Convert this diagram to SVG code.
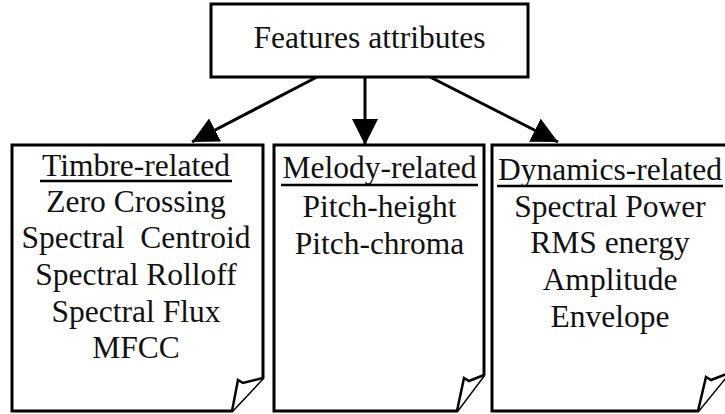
<svg xmlns="http://www.w3.org/2000/svg" width="725" height="414" viewBox="0 0 725 414">
  <style>
    .box { fill: #ffffff; stroke: #000000; stroke-width: 3; stroke-linejoin: miter; }
    .fold { fill: #ffffff; stroke: #000000; stroke-width: 2.5; stroke-linejoin: miter; }
    .lbl { font-family: "Liberation Serif", "Times New Roman", serif; font-size: 31.5px; fill: #111111; text-anchor: middle; white-space: pre; }
    .rule { stroke: #000000; stroke-width: 2.5; }
    .conn { stroke: #000000; stroke-width: 3; fill: none; }
  </style>
  <defs>
    <marker id="head" markerUnits="userSpaceOnUse" viewBox="0 0 26 26" refX="26" refY="13" markerWidth="26" markerHeight="26" orient="auto">
      <path d="M0,0 L26,13 L0,26 Z" fill="#000000"/>
    </marker>
  </defs>

  <rect width="725" height="414" fill="#ffffff"/>

  <!-- connectors from the root box to the three categories -->
  <g id="connectors">
    <line class="conn" x1="317" y1="77" x2="192" y2="142" marker-end="url(#head)"/>
    <line class="conn" x1="365" y1="77" x2="365" y2="145" marker-end="url(#head)"/>
    <line class="conn" x1="430" y1="77" x2="558" y2="142" marker-end="url(#head)"/>
  </g>

  <!-- root node -->
  <g id="features">
    <rect class="box" x="211" y="4" width="317" height="73"/>
    <text class="lbl" x="369.5" y="48">Features attributes</text>
  </g>

  <!-- timbre page -->
  <g id="timbre">
    <path class="box" d="M12,145 H263 V378 L232,411 H12 Z"/>
    <path class="fold" d="M232,411 L238,380 L243,383 L263,378"/>
    <text class="lbl" x="136" y="176">Timbre-related</text>
    <line class="rule" x1="40" y1="181" x2="232" y2="181"/>
    <text class="lbl" x="136" y="212">Zero Crossing</text>
    <text class="lbl" x="136" y="248">Spectral  Centroid</text>
    <text class="lbl" x="136" y="285">Spectral Rolloff</text>
    <text class="lbl" x="136" y="322">Spectral Flux</text>
    <text class="lbl" x="136" y="358">MFCC</text>
  </g>

  <!-- melody page -->
  <g id="melody">
    <path class="box" d="M274,145 H484 V375 L457,411 H274 Z"/>
    <path class="fold" d="M457,411 L464,378 L469,381 L484,375"/>
    <text class="lbl" x="379.5" y="178">Melody-related</text>
    <line class="rule" x1="281" y1="185" x2="478" y2="185"/>
    <text class="lbl" x="379.5" y="217">Pitch-height</text>
    <text class="lbl" x="379.5" y="254">Pitch-chroma</text>
  </g>

  <!-- dynamics page -->
  <g id="dynamics">
    <path class="box" d="M492,145 H729 V373 L698,411 H492 Z"/>
    <path class="fold" d="M698,411 L706,377 L711,380 L729,373"/>
    <text class="lbl" x="610" y="180">Dynamics-related</text>
    <line class="rule" x1="497" y1="186" x2="723" y2="186"/>
    <text class="lbl" x="610" y="217">Spectral Power</text>
    <text class="lbl" x="610" y="253">RMS energy</text>
    <text class="lbl" x="610" y="290">Amplitude</text>
    <text class="lbl" x="610" y="327">Envelope</text>
  </g>
</svg>
